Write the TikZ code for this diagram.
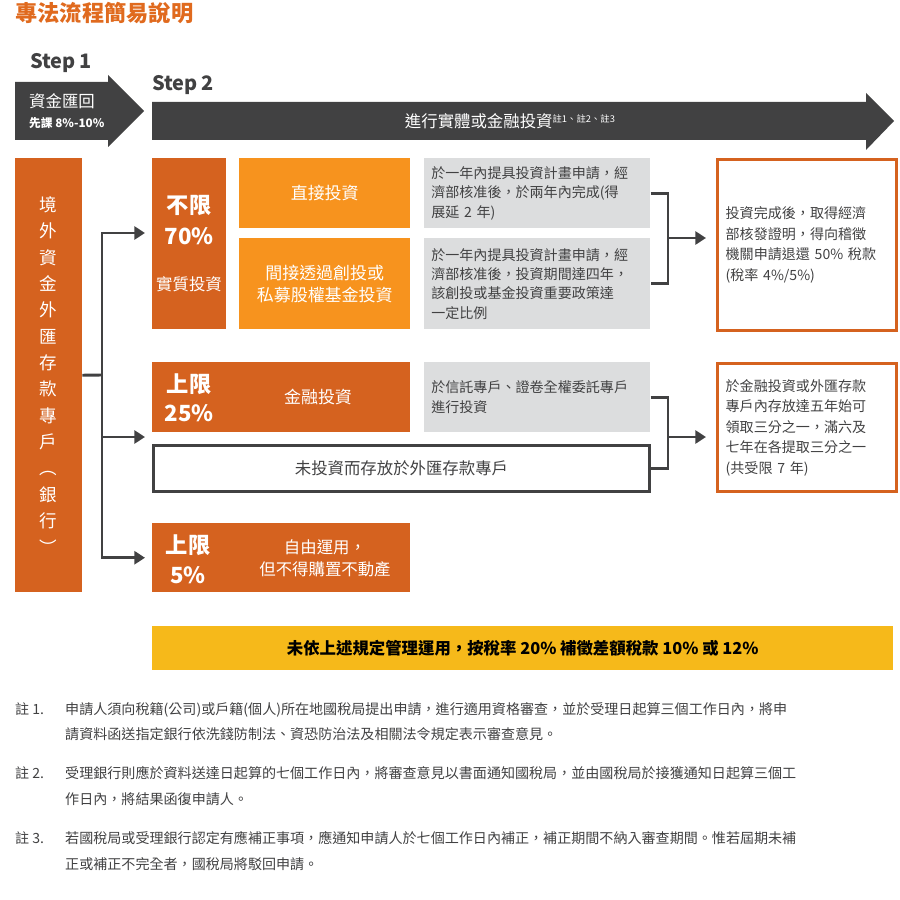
\documentclass[tikz,border=0pt]{standalone}
\usepackage{fontspec}
\setmainfont{Noto Sans CJK TC}
\usetikzlibrary{arrows.meta,positioning}
\definecolor{darkorange}{HTML}{D5621F}
\definecolor{lightorange}{HTML}{F7931E}
\definecolor{titleorange}{HTML}{E06A1E}
\definecolor{darkgray}{HTML}{414142}
\definecolor{lightgray}{HTML}{DCDDDE}
\definecolor{barYellow}{HTML}{F6B91A}

\begin{document}
\begin{tikzpicture}[
    x=0.03cm, y=-0.03cm,
    block/.style={rectangle, inner sep=0pt, anchor=north west, text=white, align=center},
    dark/.style={block, fill=darkorange},
    light/.style={block, fill=lightorange, font=\fontsize{14.5}{19}\selectfont},
    cond/.style={block, fill=lightgray, text=darkgray, align=left, inner sep=6pt,
                 font=\fontsize{12}{16.5}\selectfont},
    result/.style={block, draw=darkorange, line width=2.5pt, text=darkgray, align=left, inner sep=7pt,
                   font=\fontsize{12}{17.5}\selectfont},
    big/.style={font=\fontsize{19}{22}\selectfont\bfseries, text=white},
    small/.style={font=\fontsize{14}{20}\selectfont, text=white},
    link/.style={draw=darkgray, line width=2.5pt},
    arr/.style={link, -{Triangle[length=9pt,width=11pt]}},
    note/.style={anchor=north west, align=left, inner sep=0pt, text=darkgray,
                 font=\fontsize{12}{22}\selectfont}
]
\useasboundingbox (0,0) rectangle (900,900);

% Title and steps
\node[anchor=west, inner sep=0pt, text=titleorange, font=\fontsize{19}{22}\selectfont\bfseries] (title) at (15,13) {專法流程簡易說明};
\node[anchor=west, inner sep=0pt, text=darkgray, font=\fontsize{17}{20}\selectfont\bfseries] (step1) at (30,63) {Step\,1};
\node[anchor=west, inner sep=0pt, text=darkgray, font=\fontsize{17}{20}\selectfont\bfseries] (step2) at (152,85) {Step\,2};

% Step arrows
\fill[darkgray] (15,82) -- (108,82) -- (108,75) -- (144,111) -- (108,147) -- (108,140) -- (15,140) -- cycle;
\node[text=white, font=\fontsize{14}{17}\selectfont, anchor=west, inner sep=0pt] (remit) at (29,101) {資金匯回};
\node[text=white, font=\fontsize{10}{12}\selectfont\bfseries, anchor=west, inner sep=0pt] (tax) at (29,123) {先課 8\%-10\%};
\fill[darkgray] (152,102) -- (866,102) -- (866,93) -- (894,121) -- (866,150) -- (866,140) -- (152,140) -- cycle;
\node[text=white, font=\fontsize{14}{17}\selectfont] (invest) at (510,121) {進行實體或金融投資\raisebox{0.5ex}{\fontsize{8}{10}\selectfont 註1、註2、註3}};

% Source account
\node[dark, minimum width=67\pgflinewidth, text width=67*0.03cm, minimum width=67*0.03cm, minimum height=434*0.03cm,
      font=\fontsize{15}{22.5}\selectfont] (src) at (15,158) {境\\外\\資\\金\\外\\匯\\存\\款\\專\\戶\\︵\\銀\\行\\︶};

% Unlimited 70%
\node[dark, minimum width=74*0.03cm, minimum height=171*0.03cm] (unl) at (152,158) {};
\node[big] (unlA) at (189,205) {不限};
\node[big] (unlB) at (189,236) {70\%};
\node[small] (unlC) at (189,284) {實質\\投資};
\node[light, minimum width=171*0.03cm, minimum height=70*0.03cm] (direct) at (239,158) {直接投資};
\node[light, minimum width=171*0.03cm, minimum height=91*0.03cm] (indirect) at (239,238) {間接透過創投或\\私募股權基金投資};
\node[cond, minimum width=224*0.03cm, minimum height=70*0.03cm, text width=212*0.03cm] (g1) at (424,158)
    {於一年內提具投資計畫申請，經\\濟部核准後，於兩年內完成(得\\展延 2 年)};
\node[cond, minimum width=224*0.03cm, minimum height=91*0.03cm, text width=212*0.03cm] (g2) at (424,238)
    {於一年內提具投資計畫申請，經\\濟部核准後，投資期間達四年，\\該創投或基金投資重要政策達\\一定比例};
\node[result, minimum width=177*0.03cm, minimum height=171*0.03cm, text width=163*0.03cm] (res1) at (716,158)
    {投資完成後，取得經濟\\部核發證明，得向稽徵\\機關申請退還 50\% 稅款\\(稅率 4\%/5\%)};

% Cap 25%
\node[dark, minimum width=258*0.03cm, minimum height=70*0.03cm] (cap25) at (152,362) {};
\node[big] (cap25A) at (189,384) {上限};
\node[big] (cap25B) at (189,413) {25\%};
\node[font=\fontsize{14.5}{19}\selectfont, text=white] (fin) at (318,397) {金融投資};
\node[cond, minimum width=224*0.03cm, minimum height=70*0.03cm, text width=212*0.03cm] (g3) at (424,362)
    {於信託專戶、證卷全權委託專戶\\進行投資};
\node[block, draw=darkgray, line width=2.5pt, text=darkgray, minimum width=496*0.03cm, minimum height=46*0.03cm,
      font=\fontsize{14}{17}\selectfont] (deposit) at (152,444) {未投資而存放於外匯存款專戶};
\node[result, minimum width=177*0.03cm, minimum height=128*0.03cm, text width=163*0.03cm] (res2) at (716,362)
    {於金融投資或外匯存款\\專戶內存放達五年始可\\領取三分之一，滿六及\\七年在各提取三分之一\\(共受限 7 年)};

% Cap 5%
\node[dark, minimum width=258*0.03cm, minimum height=69*0.03cm] (cap5) at (152,523) {};
\node[big] (cap5A) at (188,545) {上限};
\node[big] (cap5B) at (188,575) {5\%};
\node[font=\fontsize{14}{19}\selectfont, text=white, align=center] (free) at (325,558) {自由運用，\\但不得購置不動產};

% Penalty bar
\node[block, fill=barYellow, text=black, minimum width=741*0.03cm, minimum height=44*0.03cm,
      font=\fontsize{14}{17}\selectfont\bfseries] (penalty) at (152,626) {未依上述規定管理運用，按稅率 20\% 補徵差額稅款 10\% 或 12\%};

% Connectors
\coordinate (split) at (102,375);
\coordinate (j1) at (668,238);
\coordinate (j2) at (668,437);
\draw[link] (src.east) -- (split);
\draw[arr, shorten >=7*0.03cm] (split) |- (152,233);
\draw[arr, shorten >=7*0.03cm] (split) |- (152,437);
\draw[arr, shorten >=7*0.03cm] (split) |- (cap5.west);
\draw[link] (g1.east) -| (j1) |- (g2.east);
\draw[arr, shorten >=10*0.03cm] (j1) -- (res1.west |- j1);
\draw[link] (g3.east) -| (j2) |- (deposit.east);
\draw[arr, shorten >=10*0.03cm] (j2) -- (res2.west |- j2);

% Notes
\node[note] (n1l) at (15,702) {註 1.};
\node[note] (n1) at (65,702) {申請人須向稅籍(公司)或戶籍(個人)所在地國稅局提出申請，進行適用資格審查，並於受理日起算三個工作日內，將申\\請資料函送指定銀行依洗錢防制法、資恐防治法及相關法令規定表示審查意見。};
\node[note] (n2l) at (15,766) {註 2.};
\node[note] (n2) at (65,766) {受理銀行則應於資料送達日起算的七個工作日內，將審查意見以書面通知國稅局，並由國稅局於接獲通知日起算三個工\\作日內，將結果函復申請人。};
\node[note] (n3l) at (15,831) {註 3.};
\node[note] (n3) at (65,831) {若國稅局或受理銀行認定有應補正事項，應通知申請人於七個工作日內補正，補正期間不納入審查期間。惟若屆期未補\\正或補正不完全者，國稅局將駁回申請。};
\end{tikzpicture}
\end{document}
